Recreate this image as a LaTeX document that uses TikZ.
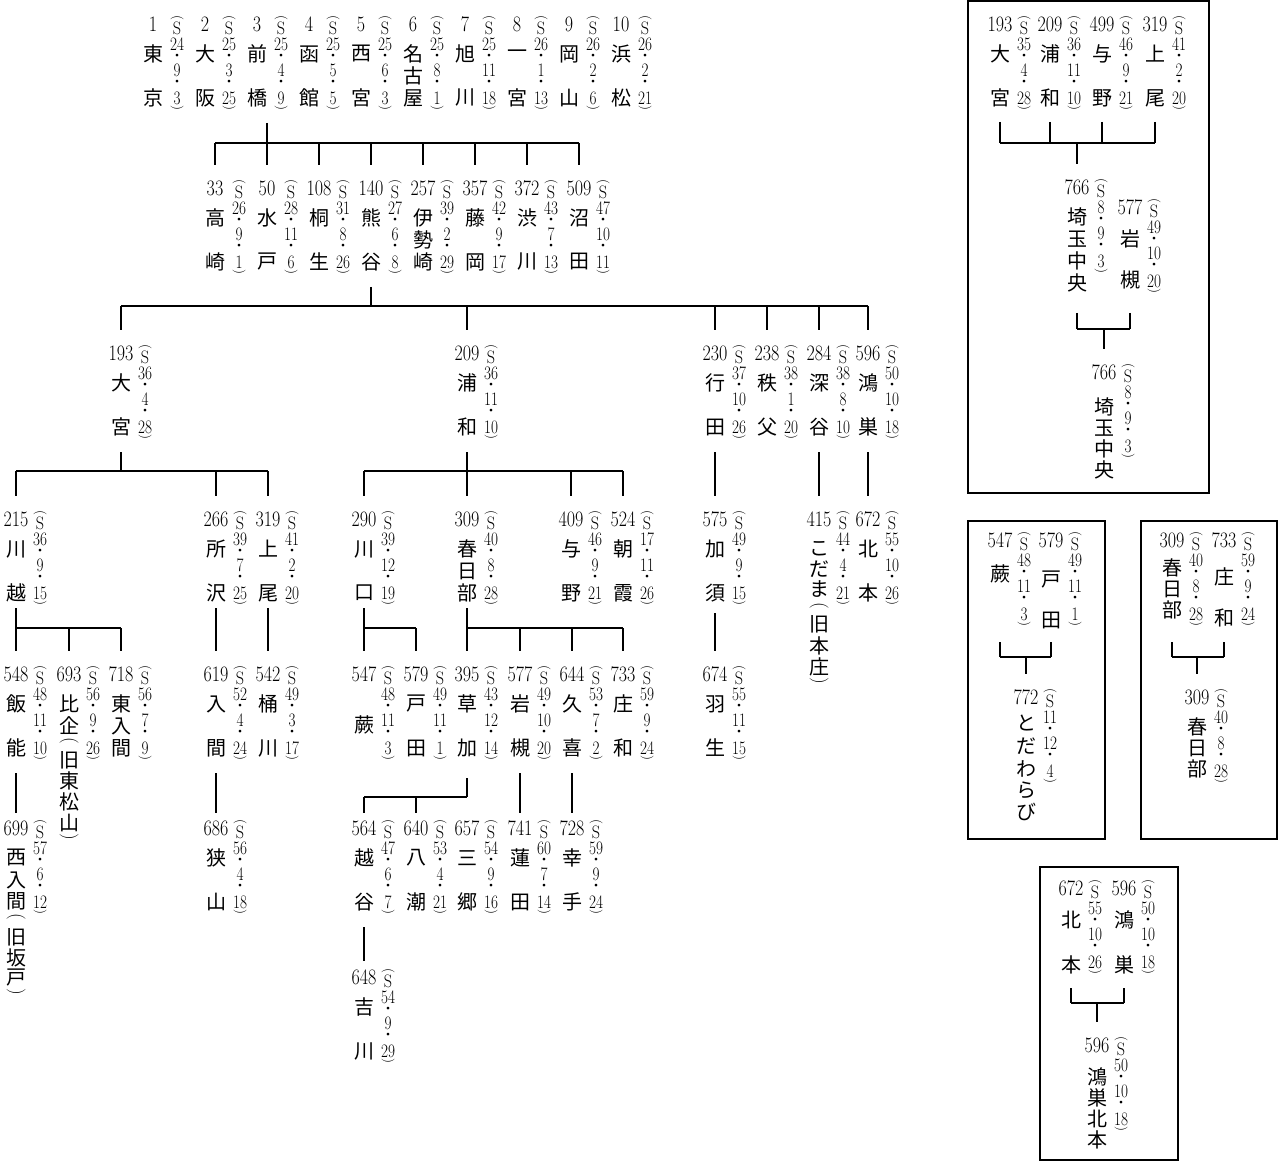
\documentclass[tikz,border=0pt]{standalone}
\usepackage{fontspec}
\usepackage{graphicx}
\newfontfamily\cjk{Noto Sans CJK JP}
\newcommand\dlp{\rotatebox[origin=c]{-90}{\rmfamily\fontsize{13}{13}\selectfont(}}
\newcommand\drp{\rotatebox[origin=c]{-90}{\rmfamily\fontsize{13}{13}\selectfont)}}
\newcommand\nlp{\rotatebox[origin=c]{-90}{\rmfamily\fontsize{19}{19}\selectfont(}}
\newcommand\nrp{\rotatebox[origin=c]{-90}{\rmfamily\fontsize{19}{19}\selectfont)}}
\tikzset{
  num/.style={font=\fontsize{22}{22}\selectfont, inner sep=0pt},
  kanji/.style={font=\cjk\fontsize{20}{20}\selectfont, inner sep=0pt},
  dnum/.style={font=\fontsize{19}{19}\selectfont, inner sep=0pt},
  dS/.style={font=\fontsize{18}{18}\selectfont, inner sep=0pt},
  dpar/.style={inner sep=0pt},
  ddot/.style={font=\cjk\fontsize{13}{13}\selectfont, inner sep=0pt},
  link/.style={line width=1.1pt},
  frame/.style={line width=1.2pt}
}
\newcommand\datecol[6]{%
  \node[dpar] (#1-p1) at (#2,#3+2) {\dlp};
  \node[dS] (#1-s) at (#2,#3+12) {\scalebox{0.9}[1]{S}};
  \node[dnum] (#1-y) at (#2,#3+28) {\scalebox{0.8}[1]{#4}};
  \node[ddot] (#1-q1) at (#2,#3+41) {・};
  \node[dnum] (#1-m) at (#2,#3+54) {\scalebox{0.8}[1]{#5}};
  \node[ddot] (#1-q2) at (#2,#3+67) {・};
  \node[dnum] (#1-dd) at (#2,#3+82) {\scalebox{0.8}[1]{#6}};
  \node[dpar] (#1-p2) at (#2,#3+92) {\drp};
}
% id, x, T, number, name chars, year, month, day, bottom offset
\newcommand\club[9]{%
  \node[num] (#1) at (#2,#3) {\scalebox{0.82}[1]{#4}};
  \foreach \cc/\dd [count=\i] in {#5} {\node[kanji] (#1-\i) at (#2,#3+\dd) {\cc};}
  \datecol{#1}{#2+24}{#3-8}{#6}{#7}{#8}
  \coordinate (#1-t) at (#2,#3-23);
  \coordinate (#1-b) at (#2,#3+#9);
}
% parent, bar y, leftmost, rightmost, children
\newcommand\tree[5]{%
  \coordinate (by) at (0,#2);
  \draw[link] (#1-b) -- (#1-b |- by);
  \draw[link] (#3-t |- by) -- (#4-t |- by);
  \foreach \c in {#5} {\draw[link] (\c-t |- by) -- (\c-t);}
}
% child, bar y, leftmost, rightmost, parents
\newcommand\merge[5]{%
  \coordinate (by) at (0,#2);
  \foreach \p in {#5} {\draw[link] (\p-b) -- (\p-b |- by);}
  \draw[link] (#3-b |- by) -- (#4-b |- by);
  \draw[link] (#1-t |- by) -- (#1-t);
}
\begin{document}
\begin{tikzpicture}[x=1pt,y=-1pt]
\useasboundingbox (0,0) rectangle (1278,1161);
% ---- row 1
\club{tokyo}{153}{24}{1}{東/30,京/74}{24}{9}{3}{99}
\club{osaka}{205}{24}{2}{大/30,阪/74}{25}{3}{25}{99}
\club{maebashi}{257}{24}{3}{前/30,橋/74}{25}{4}{9}{99}
\club{hakodate}{309}{24}{4}{函/30,館/74}{25}{5}{5}{99}
\club{nishinomiya}{361}{24}{5}{西/30,宮/74}{25}{6}{3}{99}
\club{nagoya}{413}{24}{6}{名/30,古/52,屋/74}{25}{8}{1}{99}
\club{asahikawa}{465}{24}{7}{旭/30,川/74}{25}{11}{18}{99}
\club{ichinomiya}{517}{24}{8}{一/30,宮/74}{26}{1}{13}{99}
\club{okayama}{569}{24}{9}{岡/30,山/74}{26}{2}{6}{99}
\club{hamamatsu}{621}{24}{10}{浜/30,松/74}{26}{2}{21}{99}
\coordinate (root-b) at (267,123);
% ---- row 2
\club{takasaki}{215}{188}{33}{高/30,崎/74}{26}{9}{1}{99}
\club{mito}{267}{188}{50}{水/30,戸/74}{28}{11}{6}{99}
\club{kiryu}{319}{188}{108}{桐/30,生/74}{31}{8}{26}{99}
\club{kumagaya}{371}{188}{140}{熊/30,谷/74}{27}{6}{8}{99}
\club{isesaki}{423}{188}{257}{伊/30,勢/52,崎/74}{39}{2}{29}{99}
\club{fujioka}{475}{188}{357}{藤/30,岡/74}{42}{9}{17}{99}
\club{shibukawa}{527}{188}{372}{渋/30,川/74}{43}{7}{13}{99}
\club{numata}{579}{188}{509}{沼/30,田/74}{47}{10}{11}{99}
% ---- row 3
\club{omiya}{121}{353}{193}{大/30,宮/74}{36}{4}{28}{99}
\club{urawa}{467}{353}{209}{浦/30,和/74}{36}{11}{10}{99}
\club{gyoda}{715}{353}{230}{行/30,田/74}{37}{10}{26}{99}
\club{chichibu}{767}{353}{238}{秩/30,父/74}{38}{1}{20}{99}
\club{fukaya}{819}{353}{284}{深/30,谷/74}{38}{8}{10}{99}
\club{konosu}{868}{353}{596}{鴻/30,巣/74}{50}{10}{18}{99}
% ---- row 4
\club{kawagoe}{16}{519}{215}{川/30,越/74}{36}{9}{15}{89}
\club{tokorozawa}{216}{519}{266}{所/30,沢/74}{39}{7}{25}{89}
\club{ageo}{268}{519}{319}{上/30,尾/74}{41}{2}{20}{89}
\club{kawaguchi}{364}{519}{290}{川/30,口/74}{39}{12}{19}{89}
\club{kasukabe}{467}{519}{309}{春/30,日/52,部/74}{40}{8}{28}{89}
\club{yono}{571}{519}{409}{与/30,野/74}{46}{9}{21}{89}
\club{asaka}{623}{519}{524}{朝/30,霞/74}{17}{11}{26}{89}
\club{kazo}{715}{519}{575}{加/30,須/74}{49}{9}{15}{94}
\club{kodama}{819}{519}{415}{こ/30,だ/50,ま/70,\nlp/88,旧/105,本/127,庄/148,\nrp/163}{44}{4}{21}{99}
\club{kitamoto}{868}{519}{672}{北/30,本/74}{55}{10}{26}{99}
% ---- row 5
\club{hanno}{16}{674}{548}{飯/30,能/74}{48}{11}{10}{99}
\club{hiki}{69}{674}{693}{比/30,企/52,\nlp/68,旧/86,東/107,松/128,山/149,\nrp/164}{56}{9}{26}{99}
\club{higashiiruma}{121}{674}{718}{東/30,入/52,間/74}{56}{7}{9}{99}
\club{iruma}{216}{674}{619}{入/30,間/74}{52}{4}{24}{99}
\club{okegawa}{268}{674}{542}{桶/30,川/74}{49}{3}{17}{99}
\club{warabi}{364}{674}{547}{蕨/51}{48}{11}{3}{99}
\club{toda}{416}{674}{579}{戸/30,田/74}{49}{11}{1}{99}
\club{soka}{467}{674}{395}{草/30,加/74}{43}{12}{14}{104}
\club{iwatsuki}{520}{674}{577}{岩/30,槻/74}{49}{10}{20}{99}
\club{kuki}{572}{674}{644}{久/30,喜/74}{53}{7}{2}{99}
\club{showa}{623}{674}{733}{庄/30,和/74}{59}{9}{24}{99}
\club{hanyu}{715}{674}{674}{羽/30,生/74}{55}{11}{15}{99}
% ---- row 6
\club{nishiiruma}{16}{828}{699}{西/30,入/52,間/73,\nlp/90,旧/109,坂/130,戸/150,\nrp/165}{57}{6}{12}{99}
\club{sayama}{216}{828}{686}{狭/30,山/74}{56}{4}{18}{99}
\club{koshigaya}{364}{828}{564}{越/30,谷/74}{47}{6}{7}{99}
\club{yashio}{416}{828}{640}{八/30,潮/74}{53}{4}{21}{99}
\club{misato}{467}{828}{657}{三/30,郷/74}{54}{9}{16}{99}
\club{hasuda}{520}{828}{741}{蓮/30,田/74}{60}{7}{14}{99}
\club{satte}{572}{828}{728}{幸/30,手/74}{59}{9}{24}{99}
% ---- row 7
\club{yoshikawa}{364}{977}{648}{吉/30,川/74}{54}{9}{29}{99}
% connector ends of the lower rows sit closer to their numbers
\foreach \c/\x in {nishiiruma/16,sayama/216,koshigaya/364,yashio/416,misato/467,hasuda/520,satte/572}
  {\coordinate (\c-t) at (\x,813);}
\coordinate (yoshikawa-t) at (364,961);
% ---- tree connectors
\tree{root}{143}{takasaki}{numata}{takasaki,mito,kiryu,kumagaya,isesaki,fujioka,shibukawa,numata}
\tree{kumagaya}{306}{omiya}{konosu}{omiya,urawa,gyoda,chichibu,fukaya,konosu}
\tree{omiya}{471}{kawagoe}{ageo}{kawagoe,tokorozawa,ageo}
\tree{urawa}{471}{kawaguchi}{asaka}{kawaguchi,kasukabe,yono,asaka}
\draw[link] (gyoda-b) -- (kazo-t);
\draw[link] (fukaya-b) -- (kodama-t);
\draw[link] (konosu-b) -- (kitamoto-t);
\tree{kawagoe}{628}{kawagoe}{higashiiruma}{hanno,hiki,higashiiruma}
\draw[link] (tokorozawa-b) -- (iruma-t);
\draw[link] (ageo-b) -- (okegawa-t);
\tree{kawaguchi}{628}{kawaguchi}{toda}{warabi,toda}
\tree{kasukabe}{628}{kasukabe}{showa}{soka,iwatsuki,kuki,showa}
\draw[link] (kazo-b) -- (hanyu-t);
\draw[link] (hanno-b) -- (nishiiruma-t);
\draw[link] (iruma-b) -- (sayama-t);
\tree{soka}{797}{koshigaya}{soka}{koshigaya,yashio}
\draw[link] (iwatsuki-b) -- (hasuda-t);
\draw[link] (kuki-b) -- (satte-t);
\draw[link] (koshigaya-b) -- (yoshikawa-t);
% ---- box 1
\draw[frame] (968,1) rectangle (1209,493);
\club{bomiya}{1000}{24}{193}{大/30,宮/74}{35}{4}{28}{98}
\club{burawa}{1050}{24}{209}{浦/30,和/74}{36}{11}{10}{98}
\club{byono}{1102}{24}{499}{与/30,野/74}{46}{9}{21}{98}
\club{bageo}{1155}{24}{319}{上/30,尾/74}{41}{2}{20}{98}
\club{bsaitama}{1077}{187}{766}{埼/30,玉/52,中/74,央/96}{8}{9}{3}{126}
\club{biwatsuki}{1130}{207}{577}{岩/32,槻/73}{49}{10}{20}{106}
\club{bsaitamab}{1104}{372}{766}{埼/35,玉/56,中/77,央/98}{8}{9}{3}{99}
\merge{bsaitama}{143}{bomiya}{bageo}{bomiya,burawa,byono,bageo}
\merge{bsaitamab}{329}{bsaitama}{biwatsuki}{bsaitama,biwatsuki}
% ---- box 2
\draw[frame] (968,521) rectangle (1105,839);
\club{bwarabi}{1000}{540}{547}{蕨/34}{48}{11}{3}{102}
\club{btoda}{1051}{540}{579}{戸/40,田/80}{49}{11}{1}{102}
\club{btodawarabi}{1026}{697}{772}{と/26,だ/49,わ/72,ら/93,び/115}{11}{12}{4}{99}
\merge{btodawarabi}{657}{bwarabi}{btoda}{bwarabi,btoda}
% ---- box 3
\draw[frame] (1141,521) rectangle (1277,839);
\club{bkasukabe}{1172}{540}{309}{春/28,日/49,部/70}{40}{8}{28}{102}
\club{bshowa}{1224}{540}{733}{庄/37,和/78}{59}{9}{24}{102}
\club{bkasukabeb}{1197}{697}{309}{春/30,日/51,部/72}{40}{8}{28}{99}
\merge{bkasukabeb}{657}{bkasukabe}{bshowa}{bkasukabe,bshowa}
% ---- box 4
\draw[frame] (1040,867) rectangle (1178,1160);
\club{bkitamoto}{1071}{888}{672}{北/32,本/77}{55}{10}{26}{100}
\club{bkonosu}{1124}{888}{596}{鴻/32,巣/77}{50}{10}{18}{100}
\club{bkk}{1097}{1045}{596}{鴻/32,巣/53,北/74,本/95}{50}{10}{18}{99}
\merge{bkk}{1003}{bkitamoto}{bkonosu}{bkitamoto,bkonosu}
\end{tikzpicture}
\end{document}
